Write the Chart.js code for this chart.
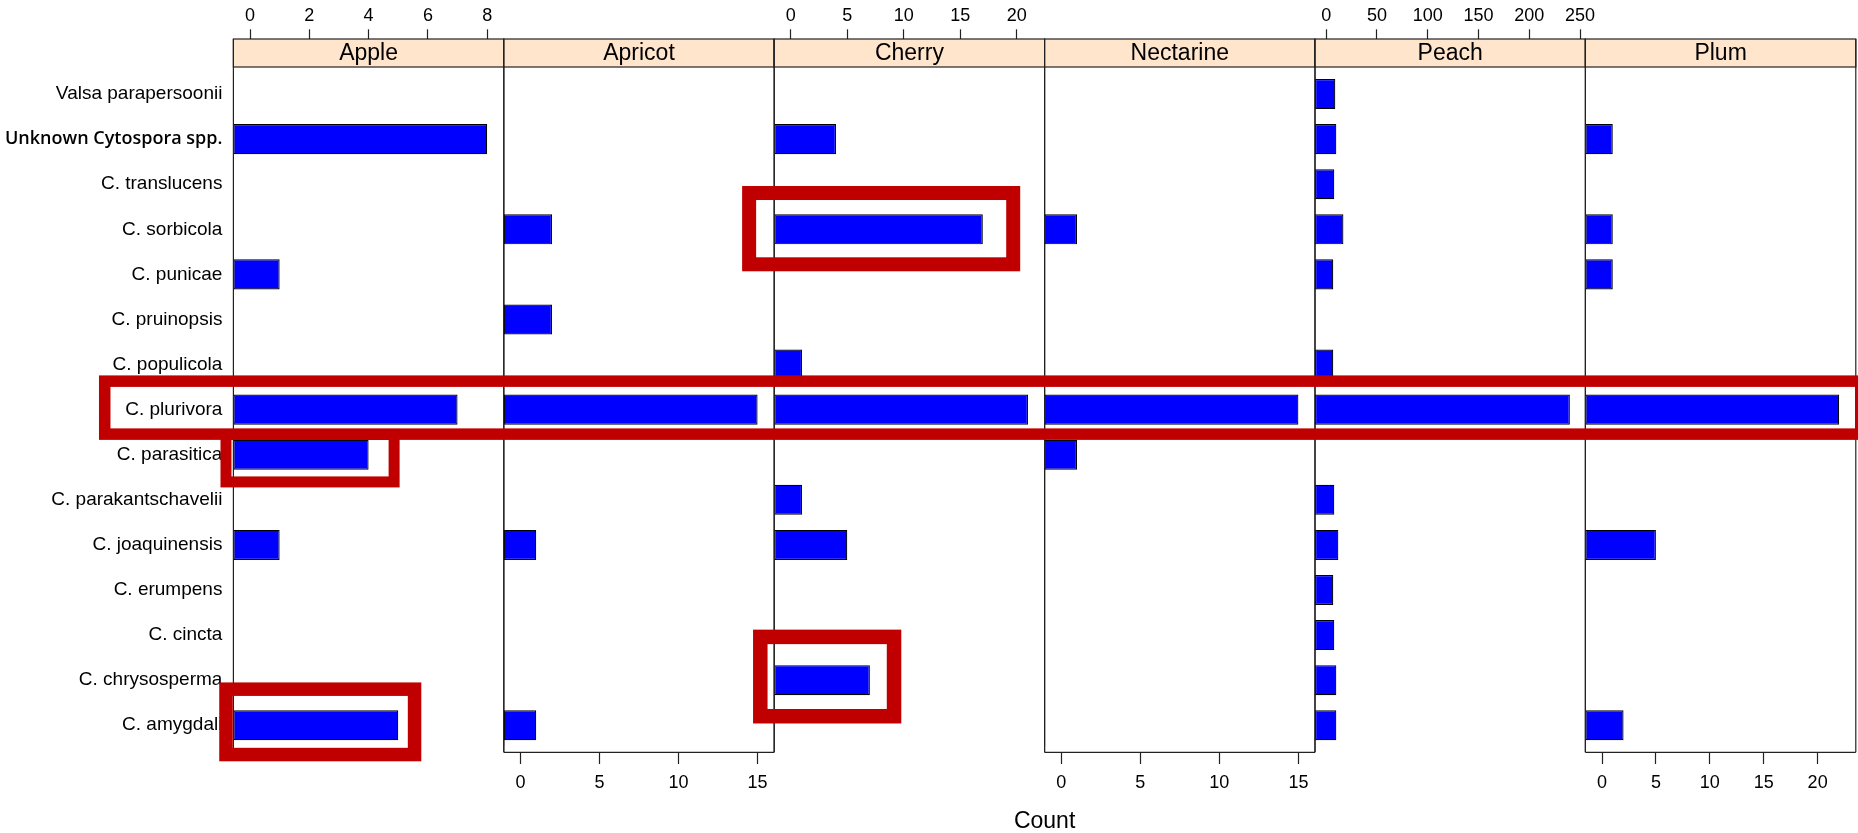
<!DOCTYPE html>
<html>
<head>
<meta charset="utf-8">
<script src="https://cdn.jsdelivr.net/npm/chart.js@4.4.1/dist/chart.umd.min.js"></script>
<style>
  html, body { margin: 0; padding: 0; background: #fff; }
  #wrap { position: relative; width: 1858px; height: 833px; overflow: hidden; }
  #wrap canvas { position: absolute; left: 0; top: 0; }
  #count {
    position: absolute; top: 808.5px; left: 233.4px; width: 1622.4px;
    text-align: center; font: 23px/23px "Liberation Sans", Arial, sans-serif; color: #000;
  }
</style>
</head>
<body>
<div id="wrap"><div id="count">Count</div></div>
<script>
// Isolate counts per Cytospora species (rows, top to bottom) and host (panels)
const species = [
  'Valsa parapersoonii', 'Unknown Cytospora spp.', 'C. translucens', 'C. sorbicola',
  'C. punicae', 'C. pruinopsis', 'C. populicola', 'C. plurivora', 'C. parasitica',
  'C. parakantschavelii', 'C. joaquinensis', 'C. erumpens', 'C. cincta',
  'C. chrysosperma', 'C. amygdali'
];
const hosts = ['Apple', 'Apricot', 'Cherry', 'Nectarine', 'Peach', 'Plum'];

const appleCounts     = [0, 8, 0, 0, 1, 0, 0, 7, 4, 0, 1, 0, 0, 0, 5];
const apricotCounts   = [0, 0, 0, 2, 0, 2, 0, 15, 0, 0, 1, 0, 0, 0, 1];
const cherryCounts    = [0, 4, 0, 17, 0, 0, 1, 21, 0, 1, 5, 0, 0, 7, 0];
const nectarineCounts = [0, 0, 0, 1, 0, 0, 0, 15, 1, 0, 0, 0, 0, 0, 0];
const peachCounts     = [9, 10, 8, 17, 7, 0, 7, 240, 0, 8, 12, 7, 8, 10, 10];
const plumCounts      = [0, 1, 0, 1, 1, 0, 0, 22, 0, 0, 5, 0, 0, 0, 2];

// Tick labels of each panel's own count axis
const appleTicks     = [0, 2, 4, 6, 8];
const apricotTicks   = [0, 5, 10, 15];
const cherryTicks    = [0, 5, 10, 15, 20];
const nectarineTicks = [0, 5, 10, 15];
const peachTicks     = [0, 50, 100, 150, 200, 250];
const plumTicks      = [0, 5, 10, 15, 20];

// Axis limits of each panel (free scales)
const appleRange     = [-0.56, 8.56];
const apricotRange   = [-1.05, 16.05];
const cherryRange    = [-1.47, 22.47];
const nectarineRange = [-1.05, 16.05];
const peachRange     = [-11, 255.3];
const plumRange      = [-1.54, 23.54];

const countsByHost = [appleCounts, apricotCounts, cherryCounts, nectarineCounts, peachCounts, plumCounts];
const ticksByHost  = [appleTicks, apricotTicks, cherryTicks, nectarineTicks, peachTicks, plumTicks];
const rangeByHost  = [appleRange, apricotRange, cherryRange, nectarineRange, peachRange, plumRange];

// Red call-out boxes: [panel, value] for each side, row, extent in rows above/below
const highlights = [
  { from: [0, -4.9],  to: [5, 24],    row: 'C. plurivora',    up: 0.632, down: 0.543, width: 11.5 },
  { from: [0, -0.81], to: [0, 4.86],  row: 'C. parasitica',   up: 0.45,  down: 0.603, width: 11 },
  { from: [0, -0.81], to: [0, 5.55],  row: 'C. amygdali',     up: 0.80,  down: 0.65,  width: 13.5 },
  { from: [2, -3.69], to: [2, 19.69], row: 'C. sorbicola',    up: 0.805, down: 0.776, width: 14 },
  { from: [2, -2.70], to: [2, 9.14],  row: 'C. chrysosperma', up: 0.96,  down: 0.80,  width: 14.5 }
];

// ---- layout ----
const W = 1858, H = 833;
const PANEL_LEFT = 233.4, PANEL_WIDTH = 270.4;
const PLOT_TOP = 67, PLOT_BOTTOM = 752.3, STRIP_H = 28, ROW_PAD = 0.1;
const pitch = (PLOT_BOTTOM - PLOT_TOP) / (species.length + 2 * ROW_PAD);
const chartTop = PLOT_TOP + ROW_PAD * pitch;
const chartBottom = PLOT_BOTTOM - ROW_PAD * pitch;
const TICK_FONT = 18, TICK_LINE = TICK_FONT * 1.2;
const TOP_TICK_END = 29.3, TOP_LABEL_Y = 15.8;
const BOTTOM_TICK_END = 764, BOTTOM_LABEL_Y = 783;

Chart.defaults.font.family = '"Liberation Sans", Arial, sans-serif';
Chart.defaults.color = '#000';

// Strip, panel frame and masking of the tick marks inside the strip
const framePlugin = {
  id: 'panelFrame',
  afterDraw(chart, args, opts) {
    const { ctx, chartArea: a } = chart;
    const rowH = (a.bottom - a.top) / species.length;
    const inset = rowH * ROW_PAD;
    const top = a.top - inset, bottom = a.bottom + inset;
    const stripTop = top - STRIP_H;
    const w = a.right - a.left;
    ctx.save();
    ctx.fillStyle = '#fff';
    if (opts.side === 'top') ctx.fillRect(a.left + 1, top, w - 2, inset + 2);
    else ctx.fillRect(a.left + 1, a.bottom - 2, w - 2, inset + 2);
    ctx.fillStyle = '#FFE5CC';
    ctx.fillRect(a.left, stripTop, w, STRIP_H);
    ctx.strokeStyle = '#222';
    ctx.lineWidth = 1.2;
    ctx.strokeRect(a.left, stripTop, w, STRIP_H);
    ctx.beginPath();
    ctx.moveTo(a.left, stripTop); ctx.lineTo(a.left, bottom);
    ctx.moveTo(a.right, stripTop); ctx.lineTo(a.right, bottom);
    if (opts.side === 'bottom') { ctx.moveTo(a.left, bottom); ctx.lineTo(a.right, bottom); }
    ctx.stroke();
    ctx.fillStyle = '#000';
    ctx.font = '23px "Liberation Sans", Arial, sans-serif';
    ctx.textAlign = 'center';
    ctx.textBaseline = 'middle';
    ctx.fillText(opts.title, (a.left + a.right) / 2, stripTop + STRIP_H / 2 + 0.5);
    ctx.restore();
  }
};

const wrap = document.getElementById('wrap');
const charts = hosts.map((host, i) => {
  const left = PANEL_LEFT + i * PANEL_WIDTH;
  const right = left + PANEL_WIDTH;
  const side = i % 2 === 0 ? 'top' : 'bottom';
  const tl = side === 'top' ? chartTop - TOP_TICK_END : BOTTOM_TICK_END - chartBottom;
  const pad = side === 'top'
    ? TOP_TICK_END - TOP_LABEL_Y - TICK_LINE / 2
    : BOTTOM_LABEL_Y - BOTTOM_TICK_END - TICK_LINE / 2;
  const canvas = document.createElement('canvas');
  canvas.width = W; canvas.height = H;
  wrap.insertBefore(canvas, document.getElementById('count'));
  return new Chart(canvas, {
    type: 'bar',
    data: {
      labels: species,
      datasets: [{
        data: countsByHost[i].map(v => (v > 0 ? v : null)),
        base: rangeByHost[i][0],
        backgroundColor: '#0000FF',
        borderColor: '#000',
        borderWidth: 1.2,
        borderSkipped: false,
        barPercentage: 2 / 3,
        categoryPercentage: 1
      }]
    },
    options: {
      indexAxis: 'y',
      responsive: false,
      animation: false,
      events: [],
      layout: {
        padding: {
          left: i === 0 ? 0 : left,
          right: W - right,
          top: side === 'top' ? 0 : chartTop,
          bottom: side === 'top' ? H - chartBottom : 0
        }
      },
      plugins: {
        legend: { display: false },
        tooltip: { enabled: false },
        panelFrame: { title: host, side }
      },
      scales: {
        x: {
          type: 'linear',
          position: side,
          min: rangeByHost[i][0],
          max: rangeByHost[i][1],
          afterFit: s => { s.height = side === 'top' ? chartTop : H - chartBottom; },
          afterBuildTicks: s => { s.ticks = ticksByHost[i].map(v => ({ value: v })); },
          grid: { drawOnChartArea: false, drawTicks: true, tickLength: tl, tickColor: '#222', tickWidth: 1.2, color: '#222' },
          border: { display: false },
          ticks: { font: { size: TICK_FONT }, padding: pad, maxRotation: 0, autoSkip: false, color: '#000' }
        },
        y: {
          type: 'category',
          display: i === 0,
          afterFit: s => { s.width = i === 0 ? PANEL_LEFT : 0; },
          grid: { display: false, drawTicks: false },
          border: { display: false },
          ticks: {
            padding: 11,
            autoSkip: false,
            color: '#000',
            font: c => (c.tick && c.tick.label === 'Unknown Cytospora spp.')
              ? { family: '"Open Sans", sans-serif', weight: '600', size: 18 }
              : { family: '"Liberation Sans", Arial, sans-serif', size: 19 }
          }
        }
      }
    },
    plugins: [framePlugin]
  });
});

// Red call-out boxes over the panels
const overlay = document.createElement('canvas');
overlay.width = W; overlay.height = H;
wrap.insertBefore(overlay, document.getElementById('count'));
const octx = overlay.getContext('2d');
octx.strokeStyle = '#C00000';
octx.lineJoin = 'miter';
const yScale = charts[0].scales.y;
const rowH = yScale.getPixelForValue(1) - yScale.getPixelForValue(0);
highlights.forEach(h => {
  const yc = yScale.getPixelForValue(species.indexOf(h.row));
  const x0 = charts[h.from[0]].scales.x.getPixelForValue(h.from[1]);
  const x1 = charts[h.to[0]].scales.x.getPixelForValue(h.to[1]);
  octx.lineWidth = h.width;
  octx.strokeRect(x0, yc - h.up * rowH, x1 - x0, (h.up + h.down) * rowH);
});
</script>
</body>
</html>
